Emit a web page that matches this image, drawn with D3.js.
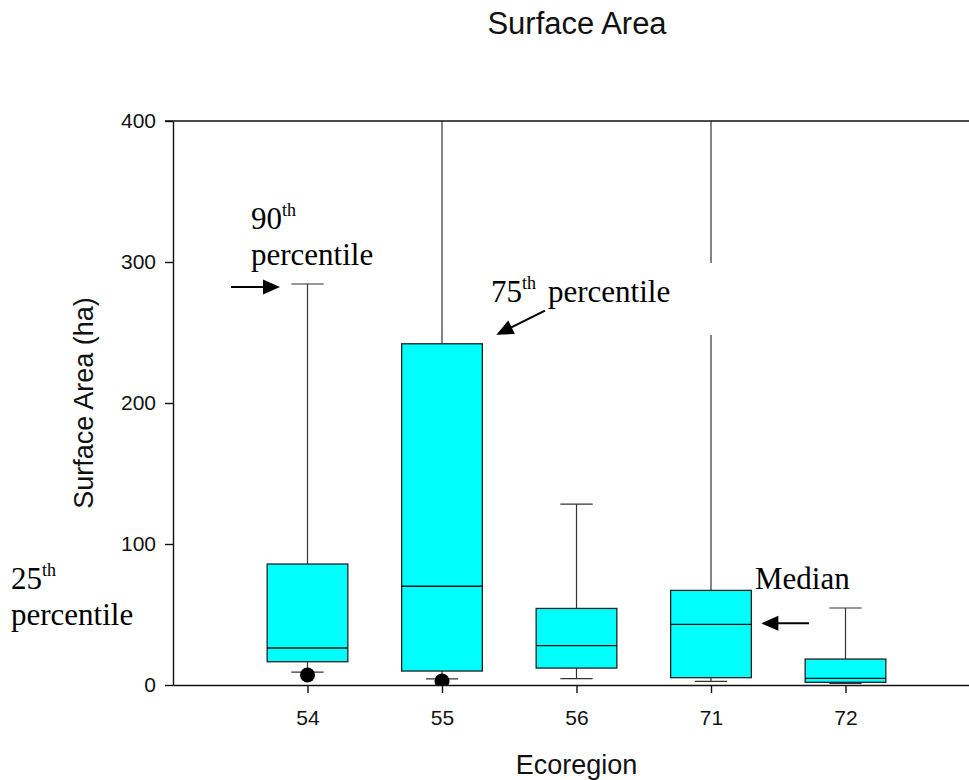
<!DOCTYPE html>
<html>
<head>
<meta charset="utf-8">
<script src="https://cdn.jsdelivr.net/npm/d3@7"></script>
<style>
  html, body { margin: 0; padding: 0; background: #fff; }
  svg { display: block; }
</style>
</head>
<body>
<svg id="chart" width="969" height="780"></svg>
<script>
// Surface area by ecoregion: box = 25th/50th/75th percentiles,
// whiskers = 10th/90th percentiles, dots = outlying values.
const categories = ["54", "55", "56", "71", "72"];
const p10    = [9.2, 4.3, 4.5, 2.6, 1.2];
const q1     = [16.5, 9.9, 12.0, 5.2, 1.9];
const median = [26.2, 70.0, 27.9, 43.0, 4.7];
const q3     = [85.8, 242.0, 54.3, 67.1, 18.4];
const p90    = [284.4, 470.0, 128.3, 440.0, 54.6];
const outlierCats = ["54", "55"];
const outlierVals = [7.1, 2.8];
const yTicks = [0, 100, 200, 300, 400];

const SANS = "'Liberation Sans', Arial, sans-serif";
const SERIF = "'Liberation Serif', 'Times New Roman', serif";

const svg = d3.select("#chart");
const plotLeft = 173, plotRight = 980, plotTop = 121, plotBottom = 685;

const x = d3.scalePoint().domain(categories).range([plotLeft, plotRight]).padding(1);
const y = d3.scaleLinear().domain([0, 400]).range([plotBottom, plotTop]);
const step = x.step();
const boxW = step * 0.6;
const capW = step * 0.24;

svg.append("defs").append("clipPath").attr("id", "plotClip")
  .append("rect").attr("x", plotLeft).attr("y", plotTop)
  .attr("width", plotRight - plotLeft).attr("height", plotBottom - plotTop);

// Title
svg.append("text")
  .attr("x", 577).attr("y", 34)
  .attr("text-anchor", "middle")
  .style("font-family", SANS).style("font-size", "31px").attr("fill", "#111")
  .text("Surface Area");

// Boxes
const rows = categories.map((c, i) => ({
  cat: c, p10: p10[i], q1: q1[i], med: median[i], q3: q3[i], p90: p90[i]
}));

const plot = svg.append("g").attr("clip-path", "url(#plotClip)");
const g = plot.selectAll("g.box").data(rows).join("g").attr("class", "box");

// upper and lower whiskers
g.append("line")
  .attr("x1", d => x(d.cat)).attr("x2", d => x(d.cat))
  .attr("y1", d => y(d.q3)).attr("y2", d => y(d.p90))
  .attr("stroke", "#333").attr("stroke-width", 1.2);
g.append("line")
  .attr("x1", d => x(d.cat)).attr("x2", d => x(d.cat))
  .attr("y1", d => y(d.q1)).attr("y2", d => y(d.p10))
  .attr("stroke", "#333").attr("stroke-width", 1.2);
// caps
g.append("line")
  .attr("x1", d => x(d.cat) - capW / 2).attr("x2", d => x(d.cat) + capW / 2)
  .attr("y1", d => y(d.p90)).attr("y2", d => y(d.p90))
  .attr("stroke", "#333").attr("stroke-width", 1.2);
g.append("line")
  .attr("x1", d => x(d.cat) - capW / 2).attr("x2", d => x(d.cat) + capW / 2)
  .attr("y1", d => y(d.p10)).attr("y2", d => y(d.p10))
  .attr("stroke", "#333").attr("stroke-width", 1.2);
// box
g.append("rect")
  .attr("x", d => x(d.cat) - boxW / 2).attr("width", boxW)
  .attr("y", d => y(d.q3)).attr("height", d => y(d.q1) - y(d.q3))
  .attr("fill", "#00FFFF").attr("stroke", "#222").attr("stroke-width", 1.3);
// median
g.append("line")
  .attr("x1", d => x(d.cat) - boxW / 2).attr("x2", d => x(d.cat) + boxW / 2)
  .attr("y1", d => y(d.med)).attr("y2", d => y(d.med))
  .attr("stroke", "#111").attr("stroke-width", 1.4);

// outlying points
plot.selectAll("circle.out").data(outlierCats.map((c, i) => ({ cat: c, v: outlierVals[i] })))
  .join("circle").attr("class", "out")
  .attr("cx", d => x(d.cat)).attr("cy", d => y(d.v)).attr("r", 7.5)
  .attr("fill", "#000");

// Axes
const yAxis = d3.axisLeft(y).tickValues(yTicks).tickSize(8).tickSizeOuter(0).tickPadding(9);
const xAxis = d3.axisBottom(x).tickSize(8).tickSizeOuter(0).tickPadding(17);

const ya = svg.append("g").attr("transform", `translate(${plotLeft},0)`).call(yAxis);
const xa = svg.append("g").attr("transform", `translate(0,${plotBottom})`).call(xAxis);
[ya, xa].forEach(a => {
  a.selectAll("path.domain").attr("stroke", "#111").attr("stroke-width", 1.4);
  a.selectAll(".tick line").attr("stroke", "#111").attr("stroke-width", 1.4);
  a.selectAll(".tick text").style("font-family", SANS).style("font-size", "21px").attr("fill", "#111");
});
// top frame line
svg.append("line")
  .attr("x1", plotLeft - 8).attr("x2", plotRight).attr("y1", plotTop).attr("y2", plotTop)
  .attr("stroke", "#111").attr("stroke-width", 1.4);

// Axis titles
svg.append("text")
  .attr("transform", `translate(93,${(plotTop + plotBottom) / 2}) rotate(-90)`)
  .attr("text-anchor", "middle")
  .style("font-family", SANS).style("font-size", "27px").attr("fill", "#111")
  .text("Surface Area (ha)");
svg.append("text")
  .attr("x", (plotLeft + plotRight) / 2).attr("y", 774)
  .attr("text-anchor", "middle")
  .style("font-family", SANS).style("font-size", "27px").attr("fill", "#111")
  .text("Ecoregion");

// Annotations
function arrow(x1, y1, x2, y2) {
  const dx = x2 - x1, dy = y2 - y1, len = Math.hypot(dx, dy);
  const ux = dx / len, uy = dy / len, hl = 17, hw = 7.5;
  const bx = x2 - ux * hl, by = y2 - uy * hl;
  svg.append("line").attr("x1", x1).attr("y1", y1).attr("x2", bx + ux * 2).attr("y2", by + uy * 2)
    .attr("stroke", "#000").attr("stroke-width", 2);
  svg.append("path")
    .attr("d", `M${x2},${y2}L${bx - uy * hw},${by + ux * hw}L${bx + uy * hw},${by - ux * hw}Z`)
    .attr("fill", "#000");
}
function supLabel(xp, yp, main, sup) {
  const t = svg.append("text").attr("x", xp).attr("y", yp)
    .style("font-family", SERIF).style("font-size", "31px").attr("fill", "#000");
  t.append("tspan").text(main);
  t.append("tspan").attr("dy", -13).style("font-size", "18px").text(sup);
  return t;
}
function plain(xp, yp, s) {
  svg.append("text").attr("x", xp).attr("y", yp)
    .style("font-family", SERIF).style("font-size", "31px").attr("fill", "#000").text(s);
}

// 90th percentile (ecoregion 54)
supLabel(251, 229, "90", "th");
plain(251, 265, "percentile");
const y90 = y(p90[0]) + 3;
arrow(231, y90, 280, y90);

// 75th percentile (ecoregion 55) with its white label box
svg.append("rect").attr("x", 486).attr("y", 263).attr("width", 238).attr("height", 72).attr("fill", "#fff");
supLabel(491, 302, "75", "th");
plain(548, 302, "percentile");
arrow(545, 310.7, x("55") + boxW / 2 + 14, y(q3[1]) - 9);

// Median (ecoregion 71)
plain(755, 589, "Median");
const yMed = y(median[3]) - 1;
arrow(809, yMed, x("71") + boxW / 2 + 10, yMed);

// 25th percentile
supLabel(11, 589, "25", "th");
plain(11, 625, "percentile");
</script>
</body>
</html>
